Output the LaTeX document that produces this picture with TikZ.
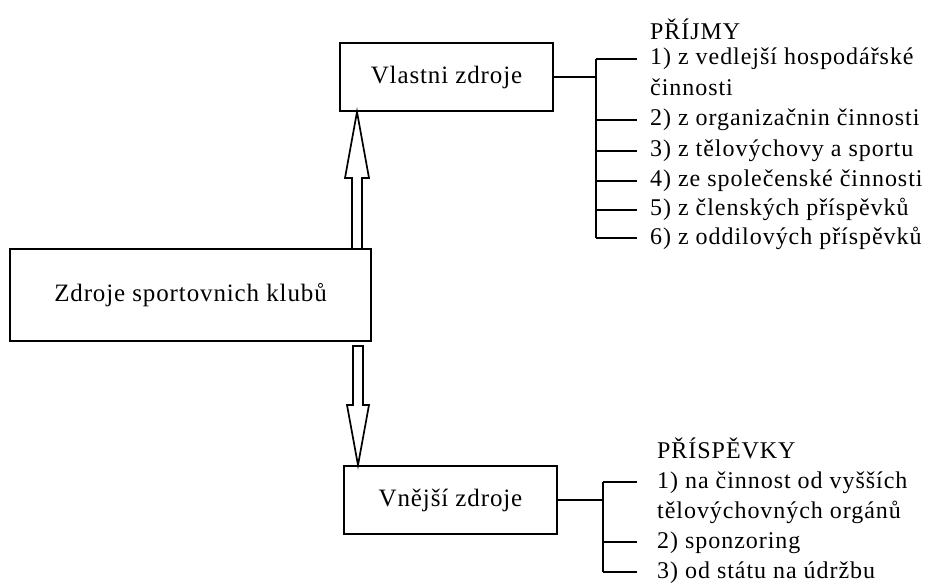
\documentclass[tikz,border=0pt]{standalone}
\usepackage{fontspec}
\setmainfont{Liberation Serif}[LetterSpace=4]
\newfontfamily\boxfont{Liberation Serif}[LetterSpace=3.5]
\usetikzlibrary{calc}
\begin{document}
\begin{tikzpicture}[x=1pt,y=-1pt,
  box/.style={draw,line width=1.8pt,inner sep=0pt,font=\boxfont\fontsize{25}{29}\selectfont},
  link/.style={line width=1.7pt},
  barrow/.style={line width=1.7pt,line join=miter},
  item/.style={anchor=west,inner xsep=0pt,inner ysep=0pt,text height=18pt,text depth=6pt,
    font=\fontsize{24}{28}\selectfont},
  head/.style={anchor=base west,inner sep=0pt,font=\fontsize{24}{28}\selectfont}]
\useasboundingbox (0,0) rectangle (930,583);

% boxes
\node[box,minimum width=361pt,minimum height=92pt] (main) at (190.5,295) {Zdroje sportovnich klubů};
\node[box,minimum width=213pt,minimum height=68pt] (vl) at (446.5,77) {Vlastni zdroje};
\node[box,minimum width=213pt,minimum height=68pt] (vn) at (450.5,500) {Vnější zdroje};

% hollow block arrow: main -> Vlastni zdroje
\coordinate (ua) at (357,178);
\draw[barrow] ($(ua |- main.north)+(-5,0)$) -- ($(ua)+(-5,0)$) -- ($(ua)+(-12,0)$)
  -- (ua |- vl.south) -- ($(ua)+(12,0)$) -- ($(ua)+(5,0)$) -- ($(ua |- main.north)+(5,0)$);

% hollow block arrow: main -> Vnější zdroje
\coordinate (da) at (358,405);
\draw[barrow] ($(da |- main.south)+(-5,4)$) -- ($(da)+(-5,0)$) -- ($(da)+(-11,0)$)
  -- (da |- vn.north) -- ($(da)+(11,0)$) -- ($(da)+(5,0)$) -- ($(da |- main.south)+(5,4)$) -- cycle;

% income list
\node[head] (hA) at (650,40) {PŘÍJMY};
\node[item] (a1) at (650,59) {1) z vedlejší hospodářské};
\node[item] (a1b) at (650,90) {činnosti};
\node[item] (a2) at (650,120) {2) z organizačnin činnosti};
\node[item] (a3) at (650,151) {3) z tělovýchovy a sportu};
\node[item] (a4) at (650,181) {4) ze společenské činnosti};
\node[item] (a5) at (650,210) {5) z členských příspěvků};
\node[item] (a6) at (650,238) {6) z oddilových příspěvků};

\coordinate (brA) at (596,77);
\draw[link] (vl.east) -- (vl.east -| brA);
\draw[link] (a1.west -| brA) -- (a6.west -| brA);
\foreach \n in {a1,a2,a3,a4,a5,a6}
  \draw[link] (\n.west -| brA) -- ($(\n.west)+(-13,0)$);

% contributions list
\node[head] (hB) at (657,458) {PŘÍSPĚVKY};
\node[item] (b1) at (657,482) {1) na činnost od vyšších};
\node[item] (b1b) at (657,512) {tělovýchovných orgánů};
\node[item] (b2) at (657,542) {2) sponzoring};
\node[item] (b3) at (657,572) {3) od státu na údržbu};

\coordinate (brB) at (603,500);
\draw[link] (vn.east) -- (vn.east -| brB);
\draw[link] (b1.west -| brB) -- (b3.west -| brB);
\foreach \n in {b1,b2,b3}
  \draw[link] (\n.west -| brB) -- ($(\n.west)+(-20,0)$);
\end{tikzpicture}
\end{document}
